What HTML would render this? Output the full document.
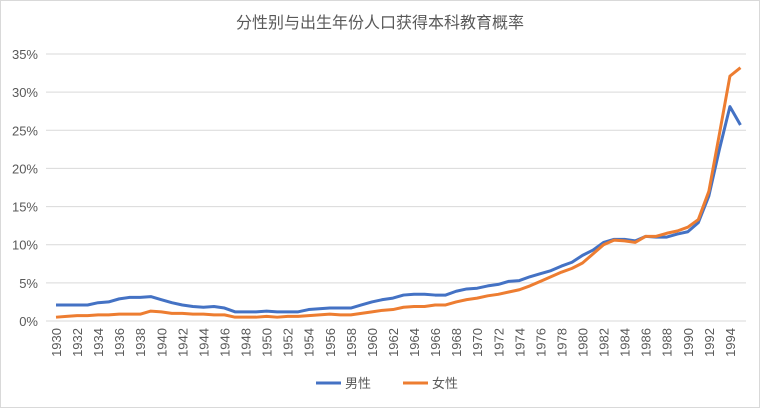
<!DOCTYPE html>
<html><head><meta charset="utf-8"><style>
body{margin:0;background:#fff;}
svg{display:block;font-family:"Liberation Sans","Noto Sans CJK SC",sans-serif;}
</style></head><body>
<svg id="c" width="760" height="408">
<rect x="0.5" y="0.5" width="759" height="407" fill="#fff" stroke="#d9d9d9"/>
<text x="380" y="28" text-anchor="middle" font-size="16" fill="#595959">分性别与出生年份人口获得本科教育概率</text>
<g id="grid"></g><g id="ylab"></g><g id="xlab"></g><g id="lines"></g>
<g>
<line x1="316" y1="383" x2="341" y2="383" stroke="#4472c4" stroke-width="3"/>
<text x="345" y="388" font-size="13" fill="#595959">男性</text>
<line x1="403" y1="383" x2="428" y2="383" stroke="#ed7d31" stroke-width="3"/>
<text x="432" y="388" font-size="13" fill="#595959">女性</text>
</g>
</svg>
<script>
const startYear=1930;
const male=[2.1,2.1,2.1,2.1,2.4,2.5,2.9,3.1,3.1,3.2,2.8,2.4,2.1,1.9,1.8,1.9,1.7,1.2,1.2,1.2,1.3,1.2,1.2,1.2,1.5,1.6,1.7,1.7,1.7,2.1,2.5,2.8,3.0,3.4,3.5,3.5,3.4,3.4,3.9,4.2,4.3,4.6,4.8,5.2,5.3,5.8,6.2,6.6,7.2,7.7,8.6,9.3,10.3,10.7,10.7,10.5,11.1,11.0,11.0,11.4,11.7,12.9,16.4,22.5,28.1,25.7];
const female=[0.5,0.6,0.7,0.7,0.8,0.8,0.9,0.9,0.9,1.3,1.2,1.0,1.0,0.9,0.9,0.8,0.8,0.5,0.5,0.5,0.6,0.5,0.6,0.6,0.7,0.8,0.9,0.8,0.8,1.0,1.2,1.4,1.5,1.8,1.9,1.9,2.1,2.1,2.5,2.8,3.0,3.3,3.5,3.8,4.1,4.6,5.2,5.8,6.4,6.9,7.6,8.8,10.0,10.6,10.5,10.3,11.1,11.1,11.5,11.8,12.3,13.3,17.0,24.5,32.1,33.2];
const yTicks=[0,5,10,15,20,25,30,35];
const NS="http://www.w3.org/2000/svg";
const X=i=>56+i*10.53, Y=v=>321-v*(267/35);
function mk(t,a,p){const e=document.createElementNS(NS,t);for(const k in a)e.setAttribute(k,a[k]);p.appendChild(e);return e;}
const grid=document.getElementById('grid'),yl=document.getElementById('ylab'),xl=document.getElementById('xlab'),ln=document.getElementById('lines');
yTicks.forEach(t=>{
 const l=mk('line',{x1:46,x2:746,y1:Y(t),y2:Y(t),stroke:'#d9d9d9','stroke-width':1},grid);
 
 
 const tx=mk('text',{x:38,y:Y(t)+5,'text-anchor':'end','font-size':13,fill:'#595959'},yl);
 tx.textContent=t+'%';
 
 
});
for(let i=0;i<male.length;i+=2){
 const x=X(i),y=328;
 const tx=mk('text',{x:x+5,y:y,'text-anchor':'end','font-size':13,fill:'#595959',transform:`rotate(-90 ${x+5} ${y})`},xl);
 tx.textContent=startYear+i;
 
 
}
[[male,'#4472c4','male'],[female,'#ed7d31','female']].forEach(([d,c,n])=>{
 const p=mk('polyline',{points:d.map((v,i)=>X(i)+','+Y(v)).join(' '),fill:'none',stroke:c,'stroke-width':3,'stroke-linejoin':'round'},ln);
 
 
});
</script>
</body></html>
